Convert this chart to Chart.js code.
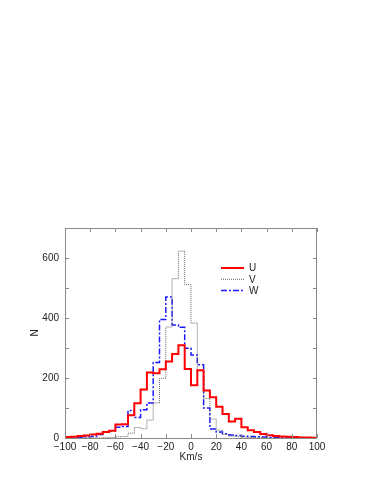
<!DOCTYPE html>
<html>
<head>
<meta charset="utf-8">
<script src="https://cdn.jsdelivr.net/npm/chart.js@4.4.1/dist/chart.umd.min.js"></script>
<style>
  html, body { margin: 0; padding: 0; background: #fff; }
  canvas { display: block; }
</style>
</head>
<body>
<canvas id="velChart" width="382" height="494"></canvas>
<script>
// borda esquerda de cada classe (km/s), largura 5
const binStart = [-100, -95, -90, -85, -80, -75, -70, -65, -60, -55,
                  -50, -45, -40, -35, -30, -25, -20, -15, -10, -5,
                  0, 5, 10, 15, 20, 25, 30, 35, 40, 45,
                  50, 55, 60, 65, 70, 75, 80, 85, 90, 95];
const binEnd = 100;

const countsU = [3, 4, 7, 8, 12, 14, 20, 24, 45, 46,
                 76, 116, 162, 218, 216, 229, 255, 280, 309, 230,
                 176, 226, 158, 136, 104, 80, 55, 64, 36, 26,
                 20, 13, 9, 7, 5, 4, 3, 2, 2, 1];
const countsV = [0, 0, 0, 0, 0, 0, 1, 2, 4, 5,
                 16, 35, 31, 60, 117, 199, 370, 531, 623, 511,
                 383, 224, 132, 63, 26, 12, 6, 4, 3, 2,
                 1, 1, 0, 0, 0, 0, 0, 0, 0, 0];
const countsW = [1, 2, 2, 3, 5, 12, 21, 24, 36, 38,
                 92, 68, 94, 117, 252, 395, 470, 377, 369, 299,
                 277, 244, 100, 30, 20, 14, 10, 8, 6, 5,
                 4, 3, 2, 2, 1, 1, 1, 0, 0, 0];

const seriesNames = ['U', 'V', 'W'];
const xTicks = [-100, -80, -60, -40, -20, 0, 20, 40, 60, 80, 100];
const yTickLabels = [0, 200, 400, 600];
const yMinorTicks = [0, 100, 200, 300, 400, 500, 600, 700];

const FONT = '"Liberation Sans", Arial, sans-serif';

// transforma as classes em pontos para a linha em degraus
function toSteps(counts) {
    const pts = binStart.map((x, i) => ({ x: x, y: counts[i] }));
    pts.push({ x: binEnd, y: counts[counts.length - 1] });
    return pts;
}

const styles = [
    { color: '#ff0000', width: 2, dash: [] },
    { color: '#666666', width: 1, dash: [1, 1] },
    { color: '#1a1aff', width: 1.5, dash: [6, 2, 2, 2] }
];

// moldura com marcas para dentro e legenda
const framePlugin = {
    id: 'frame',
    afterDraw(chart) {
        const { ctx, chartArea: a, scales: { x, y } } = chart;
        ctx.save();
        ctx.strokeStyle = '#8a8a8a';
        ctx.lineWidth = 1;
        ctx.strokeRect(a.left + 0.5, a.top + 0.5, a.right - a.left - 1, a.bottom - a.top);
        ctx.beginPath();
        xTicks.forEach(v => {
            const px = Math.round(x.getPixelForValue(v)) + 0.5;
            ctx.moveTo(px, a.bottom); ctx.lineTo(px, a.bottom - 4);
            ctx.moveTo(px, a.top); ctx.lineTo(px, a.top + 4);
        });
        yMinorTicks.forEach(v => {
            const py = Math.round(y.getPixelForValue(v)) + 0.5;
            ctx.moveTo(a.left, py); ctx.lineTo(a.left + 4, py);
            ctx.moveTo(a.right, py); ctx.lineTo(a.right - 4, py);
        });
        ctx.stroke();

        // legenda
        const lx = a.left + 156, ly = a.top + 40;
        chart.data.datasets.forEach((ds, i) => {
            const yy = ly + i * 11.3;
            ctx.strokeStyle = ds.borderColor;
            ctx.lineWidth = ds.borderWidth;
            ctx.setLineDash(ds.borderDash);
            ctx.beginPath();
            ctx.moveTo(lx, yy); ctx.lineTo(lx + 23, yy);
            ctx.stroke();
            ctx.setLineDash([]);
            ctx.fillStyle = '#222';
            ctx.font = '10px ' + FONT;
            ctx.textBaseline = 'middle';
            ctx.fillText(ds.label, lx + 28, yy + 0.5);
        });
        ctx.restore();
    }
};

const ctx = document.getElementById('velChart').getContext('2d');

new Chart(ctx, {
    type: 'line',
    data: {
        datasets: [countsU, countsV, countsW].map((c, i) => ({
            label: seriesNames[i],
            data: toSteps(c),
            borderColor: styles[i].color,
            borderWidth: styles[i].width,
            borderDash: styles[i].dash,
            stepped: 'before',
            pointRadius: 0,
            fill: false,
            tension: 0
        }))
    },
    options: {
        responsive: false,
        animation: false,
        layout: { padding: { top: 228, right: 65, bottom: 31, left: 29 } },
        plugins: {
            legend: { display: false },
            tooltip: { enabled: false }
        },
        scales: {
            x: {
                type: 'linear',
                min: -100,
                max: 100,
                afterFit: s => { s.height = 25; },
                afterBuildTicks: s => { s.ticks = xTicks.map(v => ({ value: v })); },
                grid: { display: false, drawTicks: false },
                border: { display: false },
                ticks: {
                    padding: 3,
                    color: '#222',
                    maxRotation: 0,
                    minRotation: 0,
                    autoSkip: false,
                    font: { family: FONT, size: 10 },
                    callback: v => String(v).replace('-', '\u2212')
                },
                title: {
                    display: true,
                    text: 'Km/s',
                    color: '#222',
                    padding: 0,
                    font: { family: FONT, size: 10 }
                }
            },
            y: {
                min: 0,
                max: 700,
                afterFit: s => { s.width = 36; },
                afterBuildTicks: s => { s.ticks = yTickLabels.map(v => ({ value: v })); },
                grid: { display: false, drawTicks: false },
                border: { display: false },
                ticks: {
                    padding: 6,
                    color: '#222',
                    font: { family: FONT, size: 10 }
                },
                title: {
                    display: true,
                    text: 'N',
                    color: '#222',
                    padding: 0,
                    font: { family: FONT, size: 10 }
                }
            }
        }
    },
    plugins: [framePlugin]
});
</script>
</body>
</html>
